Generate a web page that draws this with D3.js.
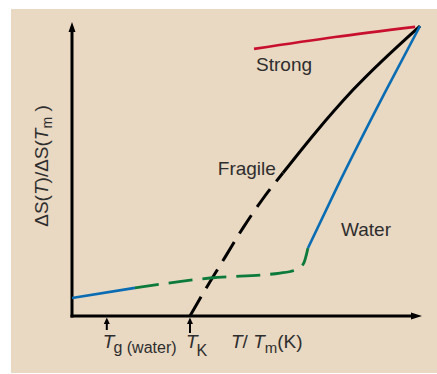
<!DOCTYPE html>
<html><head><meta charset="utf-8">
<script src="https://cdn.jsdelivr.net/npm/d3@7"></script>
<style>body{margin:0;background:#fff}svg{display:block}text{font-family:"Liberation Sans",Arial,sans-serif;fill:#2e2e2e}</style>
</head><body>
<script>
// Data (normalized units: x = T/Tm fraction, y = ΔS(T)/ΔS(Tm))
const strong = [[0.523,0.921],[0.756,0.962],[0.986,0.997]];
const fragileDashed = [[0.339,0],[0.391,0.107],[0.440,0.203],[0.491,0.303],[0.546,0.400],[0.606,0.493]];
const fragileSolid = [[0.606,0.493],[0.700,0.633],[0.807,0.779],[1,1]];
const waterLow = [[0,0.062],[0.181,0.097]];
const waterDashed = [[0.181,0.097],[0.397,0.131],[0.598,0.148],[0.640,0.158],[0.665,0.180],[0.678,0.234]];
const waterHigh = [[0.678,0.234],[0.760,0.440],[0.899,0.770],[1,1]];
const markers = [{x:0.100,label:"T",sub:"g (water)"},{x:0.339,label:"T",sub:"K"}];
const seriesLabels = [{text:"Strong",x:0.529,y:0.845},{text:"Fragile",x:0.419,y:0.486},{text:"Water",x:0.773,y:0.276}];

const W=437,H=374;
const svg=d3.select("body").append("svg").attr("width",W).attr("height",H);
svg.append("rect").attr("x",11).attr("y",9).attr("width",W-11).attr("height",364).attr("fill","#e9d8c2");

const x=d3.scaleLinear().domain([0,1]).range([72,420]);
const y=d3.scaleLinear().domain([0,1]).range([316,26]);

const line=d3.line().x(d=>x(d[0])).y(d=>y(d[1])).curve(d3.curveMonotoneX);

// axes
const ax=svg.append("g");
ax.append("line").attr("x1",x(0)).attr("x2",x(0)).attr("y1",y(0)+1.5).attr("y2",30).attr("stroke","#000").attr("stroke-width",3);
ax.append("path").attr("d",`M${x(0)-3.5},32 L${x(0)},22 L${x(0)+3.5},32 Z`).attr("fill","#000");
ax.append("line").attr("x1",x(0)-1.5).attr("x2",414).attr("y1",y(0)).attr("y2",y(0)).attr("stroke","#000").attr("stroke-width",3);
ax.append("path").attr("d",`M411,${y(0)-3.5} L422,${y(0)} L411,${y(0)+3.5} Z`).attr("fill","#000");

function draw(data,color,w,dash){
  const p=svg.append("path").datum(data).attr("d",line).attr("fill","none").attr("stroke",color).attr("stroke-width",w).attr("stroke-linecap","butt");
  if(dash)p.attr("stroke-dasharray",dash);
}
draw(strong,"#c8102e",2.6);
draw(fragileDashed,"#000",3,"22,10");
draw(fragileSolid,"#000",3);
draw(waterLow,"#0a6db3",2.6);
draw(waterDashed,"#0b7a3b",2.8,"24,10");
draw(waterHigh,"#0a6db3",2.6);

// series labels
seriesLabels.forEach(l=>{
  svg.append("text").attr("x",x(l.x)).attr("y",y(l.y)).attr("font-size",19).text(l.text);
});

// markers
markers.forEach(m=>{
  const px=x(m.x);
  svg.append("line").attr("x1",px).attr("x2",px).attr("y1",322).attr("y2",m.sub==="K"?333:330).attr("stroke","#000").attr("stroke-width",2);
  svg.append("path").attr("d",`M${px-3},324 L${px},317.5 L${px+3},324 Z`).attr("fill","#000");
  const t=svg.append("text").attr("x",px-4).attr("y",348).attr("font-size",19);
  t.append("tspan").attr("font-style","italic").text(m.label);
  t.append("tspan").attr("font-size",m.sub==="K"?16:16).attr("dy",m.sub==="K"?8:5).attr("dx",-1).text(m.sub);
});

// x axis title
const xt=svg.append("text").attr("x",231).attr("y",348).attr("font-size",19);
xt.append("tspan").attr("font-style","italic").text("T");
xt.append("tspan").text("/ ");
xt.append("tspan").attr("font-style","italic").text("T");
xt.append("tspan").attr("font-size",15).attr("dy",5).text("m");
xt.append("tspan").attr("dy",-5).text("(K)");

// y axis title
const yt=svg.append("text").attr("transform","translate(48,166) rotate(-90)").attr("text-anchor","middle").attr("font-size",19);
yt.append("tspan").text("ΔS(");
yt.append("tspan").attr("font-style","italic").text("T");
yt.append("tspan").text(")/ΔS(");
yt.append("tspan").attr("font-style","italic").text("T");
yt.append("tspan").attr("font-size",14).attr("dy",4).text("m");
yt.append("tspan").attr("dy",-4).text(" )");
</script>
</body></html>
